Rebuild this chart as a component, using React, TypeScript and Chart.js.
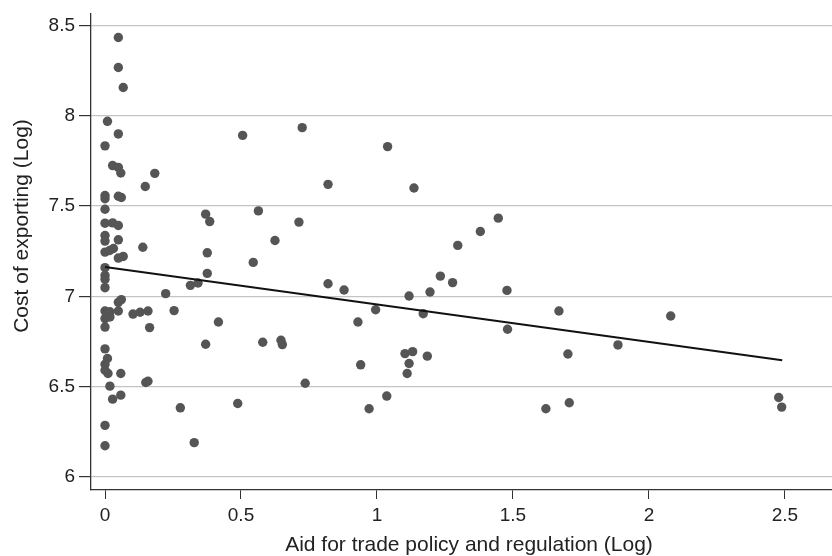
import React, { useEffect, useRef } from "react";
import { Chart, registerables } from "chart.js";

Chart.register(...registerables);

const aidX: number[] = [
  0.049, 0.049, 0.067, 0.009, 0.049, 0.506, 0.0, 0.028, 0.049, 0.058,
  0.183, 0.148, 0.0, 0.0, 0.049, 0.06, 0.0, 0.37, 0.385, 0.564,
  0.0, 0.028, 0.049, 0.0, 0.0, 0.049, 0.625, 0.139, 0.0, 0.017,
  0.031, 0.376, 0.049, 0.067, 0.545, 0.0, 0.376, 0.0, 0.0, 0.0,
  0.314, 0.342, 0.223, 0.0, 0.018, 0.0, 0.018, 0.049, 0.06, 0.049,
  0.103, 0.129, 0.158, 0.254, 0.164, 0.417, 0.0, 0.0, 0.37, 0.58,
  0.647, 0.652, 0.009, 0.0, 0.0, 0.011, 0.058, 0.15, 0.158, 0.018,
  0.028, 0.058, 0.277, 0.488, 0.0, 0.328, 0.0, 0.725, 1.039, 0.82,
  1.136, 0.713, 1.446, 1.38, 1.297, 1.233, 1.278, 0.82, 0.879, 1.118,
  1.195, 1.478, 0.995, 1.17, 0.93, 1.48, 1.103, 1.131, 1.118, 1.185,
  0.94, 1.111, 0.736, 1.036, 0.971, 1.621, 1.669, 2.08, 1.886, 1.702,
  1.707, 2.477, 2.488,
];

const costY: number[] = [
  8.433, 8.267, 8.156, 7.969, 7.899, 7.891, 7.833, 7.724, 7.714, 7.683,
  7.681, 7.608, 7.558, 7.54, 7.554, 7.547, 7.482, 7.455, 7.414, 7.473,
  7.405, 7.407, 7.392, 7.337, 7.306, 7.313, 7.309, 7.272, 7.245, 7.254,
  7.265, 7.241, 7.212, 7.221, 7.188, 7.159, 7.127, 7.116, 7.094, 7.048,
  7.061, 7.074, 7.015, 6.919, 6.915, 6.877, 6.886, 6.967, 6.982, 6.919,
  6.902, 6.912, 6.919, 6.921, 6.827, 6.858, 6.83, 6.709, 6.735, 6.746,
  6.757, 6.733, 6.656, 6.624, 6.591, 6.573, 6.573, 6.523, 6.53, 6.503,
  6.431, 6.453, 6.383, 6.407, 6.286, 6.19, 6.173, 7.934, 7.829, 7.62,
  7.6, 7.411, 7.433, 7.359, 7.282, 7.112, 7.076, 7.07, 7.035, 7.002,
  7.024, 7.033, 6.926, 6.904, 6.858, 6.818, 6.683, 6.694, 6.628, 6.669,
  6.621, 6.573, 6.519, 6.448, 6.378, 6.378, 6.919, 6.891, 6.731, 6.681,
  6.411, 6.44, 6.387,
];

const fitX: number[] = [0, 2.49];
const fitY: number[] = [7.162, 6.646];

const xTicks: number[] = [0, 0.5, 1, 1.5, 2, 2.5];
const yTicks: number[] = [6, 6.5, 7, 7.5, 8, 8.5];

const xTitle = "Aid for trade policy and regulation (Log)";
const yTitle = "Cost of exporting (Log)";

const FONT = "'Liberation Sans', Arial, sans-serif";

const titlePlugin = {
  id: "axisTitles",
  afterDraw(chart: any) {
    const ctx = chart.ctx as CanvasRenderingContext2D;
    ctx.save();
    ctx.fillStyle = "#222222";
    ctx.font = `21px ${FONT}`;
    ctx.textAlign = "center";
    ctx.textBaseline = "middle";
    ctx.fillText(xTitle, 469, 545);
    ctx.translate(22, 226);
    ctx.rotate(-Math.PI / 2);
    ctx.fillText(yTitle, 0, 0);
    ctx.restore();
  },
};

export default function App() {
  const ref = useRef<HTMLCanvasElement | null>(null);

  useEffect(() => {
    document.body.style.margin = "0";
    const canvas = ref.current;
    if (!canvas) return;
    const chart = new Chart(canvas, {
      type: "scatter",
      data: {
        datasets: [
          {
            label: "points",
            data: aidX.map((x, i) => ({ x, y: costY[i] })),
            backgroundColor: "#555555",
            borderColor: "#555555",
            borderWidth: 0,
            pointRadius: 4.7,
            pointHoverRadius: 4.7,
            order: 2,
          },
          {
            type: "line",
            label: "fit",
            data: fitX.map((x, i) => ({ x, y: fitY[i] })),
            borderColor: "#111111",
            borderWidth: 2,
            pointRadius: 0,
            fill: false,
            order: 1,
          } as any,
        ],
      },
      options: {
        animation: false,
        responsive: false,
        maintainAspectRatio: false,
        layout: { autoPadding: false, padding: { top: 14, right: 0, left: 0, bottom: 0 } },
        plugins: {
          legend: { display: false },
          tooltip: { enabled: false },
        },
        scales: {
          x: {
            type: "linear",
            min: -0.0515,
            max: 2.673,
            afterBuildTicks: (s: any) => {
              s.ticks = xTicks.map((v) => ({ value: v }));
            },
            afterFit: (s: any) => {
              s.height = 66;
              s.paddingLeft = 0;
              s.paddingRight = 0;
            },
            ticks: {
              color: "#222222",
              font: { family: FONT, size: 19 },
              padding: 5,
              callback: (v: any) => String(v),
              maxRotation: 0,
            },
            grid: {
              drawOnChartArea: false,
              drawTicks: true,
              tickLength: 9,
              tickColor: "#333333",
            },
            border: { display: true, color: "#333333", width: 1.3 },
          },
          y: {
            type: "linear",
            min: 5.928,
            max: 8.563,
            afterBuildTicks: (s: any) => {
              s.ticks = yTicks.map((v) => ({ value: v }));
            },
            afterFit: (s: any) => {
              s.width = 91;
              s.paddingTop = 0;
              s.paddingBottom = 0;
            },
            ticks: {
              color: "#222222",
              font: { family: FONT, size: 19 },
              padding: 4,
              callback: (v: any) => String(v),
            },
            grid: {
              drawOnChartArea: true,
              drawTicks: true,
              tickLength: 12,
              color: "#c4c4c4",
              tickColor: "#333333",
              lineWidth: 1.2,
            },
            border: { display: true, color: "#333333", width: 1.3 },
          },
        },
      },
      plugins: [titlePlugin],
    });
    return () => chart.destroy();
  }, []);

  return (
    <div style={{ width: 832, height: 556, background: "#ffffff" }}>
      <canvas ref={ref} width={832} height={556} style={{ width: 832, height: 556, display: "block" }} />
    </div>
  );
}
